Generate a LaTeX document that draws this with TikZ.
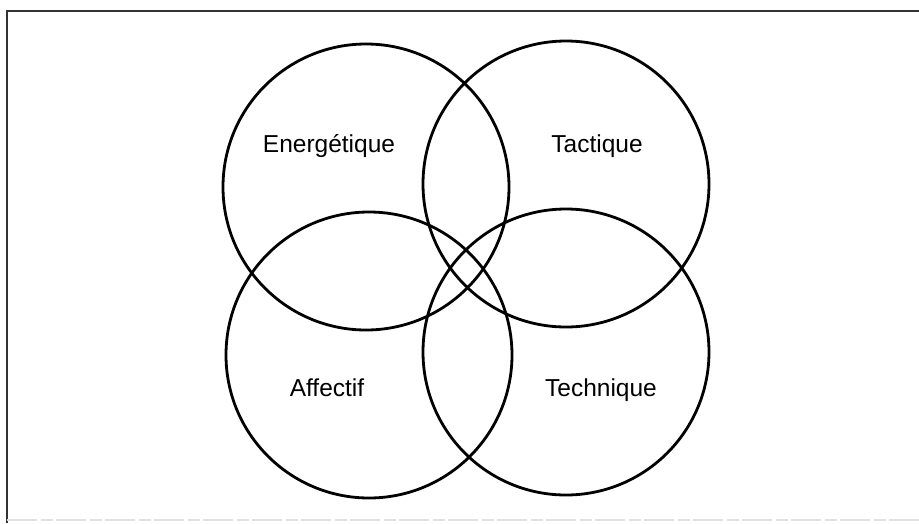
\documentclass[tikz,border=0pt]{standalone}
\usepackage{fontspec}
\setmainfont{Liberation Sans}
\begin{document}
\begin{tikzpicture}[x=1pt,y=-1pt,
  ring/.style={circle, draw=black, line width=2.8pt, minimum size=286pt, inner sep=0pt},
  lbl/.style={font=\fontsize{24.5}{28}\selectfont, text=black, inner sep=0pt, anchor=base},
  frame/.style={draw=black!80, line width=2.4pt}]
\useasboundingbox (0,0) rectangle (919,523);
\coordinate (tl) at (7,11);
\coordinate (tr) at (919,11);
\coordinate (bl) at (7,523);
\coordinate (bl2) at (7,520);
\coordinate (br) at (919,520);
\draw[frame] (tr) -- (tl) -- (bl);
\draw[draw=black!12, line width=1.5pt, dash pattern=on 30pt off 4pt on 12pt off 3pt] (bl2) -- (br);
\node[ring] (E) at (366,187) {};
\node[ring] (T) at (566,184) {};
\node[ring] (A) at (369,355) {};
\node[ring] (Q) at (566,352) {};
\node[lbl] (tE) at (329,152) {Energétique};
\node[lbl] (tT) at (597,152) {Tactique};
\node[lbl] (tA) at (327,396) {Affectif};
\node[lbl] (tQ) at (601,396) {Technique};
\end{tikzpicture}
\end{document}
